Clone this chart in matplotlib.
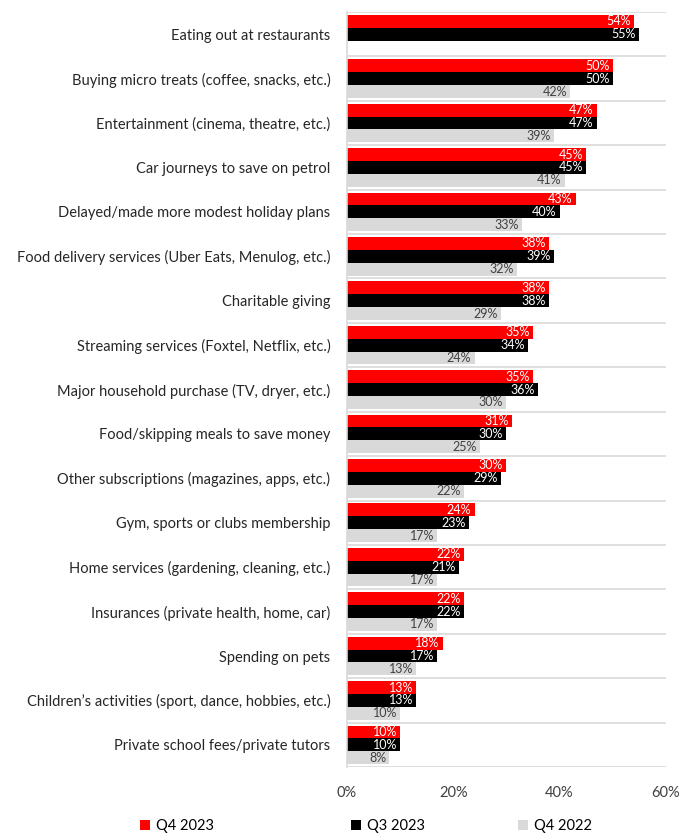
import numpy as np
import matplotlib.pyplot as plt
from matplotlib.patches import Patch

categories = [
    "Eating out at restaurants",
    "Buying micro treats (coffee, snacks, etc.)",
    "Entertainment (cinema, theatre, etc.)",
    "Car journeys to save on petrol",
    "Delayed/made more modest holiday plans",
    "Food delivery services (Uber Eats, Menulog, etc.)",
    "Charitable giving",
    "Streaming services (Foxtel, Netflix, etc.)",
    "Major household purchase (TV, dryer, etc.)",
    "Food/skipping meals to save money",
    "Other subscriptions (magazines, apps, etc.)",
    "Gym, sports or clubs membership",
    "Home services (gardening, cleaning, etc.)",
    "Insurances (private health, home, car)",
    "Spending on pets",
    "Children\u2019s activities (sport, dance, hobbies, etc.)",
    "Private school fees/private tutors",
]
q4_2023 = [54, 50, 47, 45, 43, 38, 38, 35, 35, 31, 30, 24, 22, 22, 18, 13, 10]
q3_2023 = [55, 50, 47, 45, 40, 39, 38, 34, 36, 30, 29, 23, 21, 22, 17, 13, 10]
q4_2022 = [None, 42, 39, 41, 33, 32, 29, 24, 30, 25, 22, 17, 17, 17, 13, 10, 8]
series_names = ["Q4 2023", "Q3 2023", "Q4 2022"]

colors = ["#ff0000", "#000000", "#d9d9d9"]
text_colors = ["white", "white", "#404040"]

plt.rcParams['font.family'] = ['Lato', 'DejaVu Sans']

fig = plt.figure(figsize=(6.83, 8.35), dpi=100)
ax = fig.add_axes([0.508, 0.0814, 0.467, 0.9042])

y = np.arange(len(categories))
h = 0.29
offsets = [-h, 0, h]

for s, (vals, off) in enumerate(zip([q4_2023, q3_2023, q4_2022], offsets)):
    for i, v in enumerate(vals):
        if v is None:
            continue
        ax.barh(y[i] + off, v, height=h, color=colors[s], edgecolor='none')
        ax.text(v - 0.6, y[i] + off, f"{v}%", ha='right', va='center',
                fontsize=9, color=text_colors[s])

# group separators
for b in np.arange(-0.5, len(categories), 1.0):
    ax.axhline(b, color='#d9d9d9', lw=1.2, zorder=0)

ax.set_ylim(len(categories) - 0.5, -0.5)
ax.set_xlim(0, 60)
ax.set_xticks([0, 20, 40, 60])
ax.set_xticklabels(["0%", "20%", "40%", "60%"], fontsize=10.5, color='#404040')
ax.set_yticks(y)
ax.set_yticklabels(categories, fontsize=10.5, color='#262626')
ax.tick_params(axis='both', length=0)
ax.tick_params(axis='y', pad=12)
ax.tick_params(axis='x', pad=14)

for side in ['top', 'right', 'bottom']:
    ax.spines[side].set_visible(False)
ax.spines['left'].set_color('#d9d9d9')
ax.spines['left'].set_linewidth(1.2)

# legend entries spread along the bottom
legend_x = [0.194, 0.503, 0.748]
for name, c, lx in zip(series_names, colors, legend_x):
    fig.legend(handles=[Patch(facecolor=c, edgecolor='none', label=name)],
               loc='center left', bbox_to_anchor=(lx, 0.011), frameon=False,
               fontsize=10.5, handlelength=0.7, handleheight=0.7,
               handletextpad=0.4, borderpad=0)

fig.savefig("out.png", dpi=100)
